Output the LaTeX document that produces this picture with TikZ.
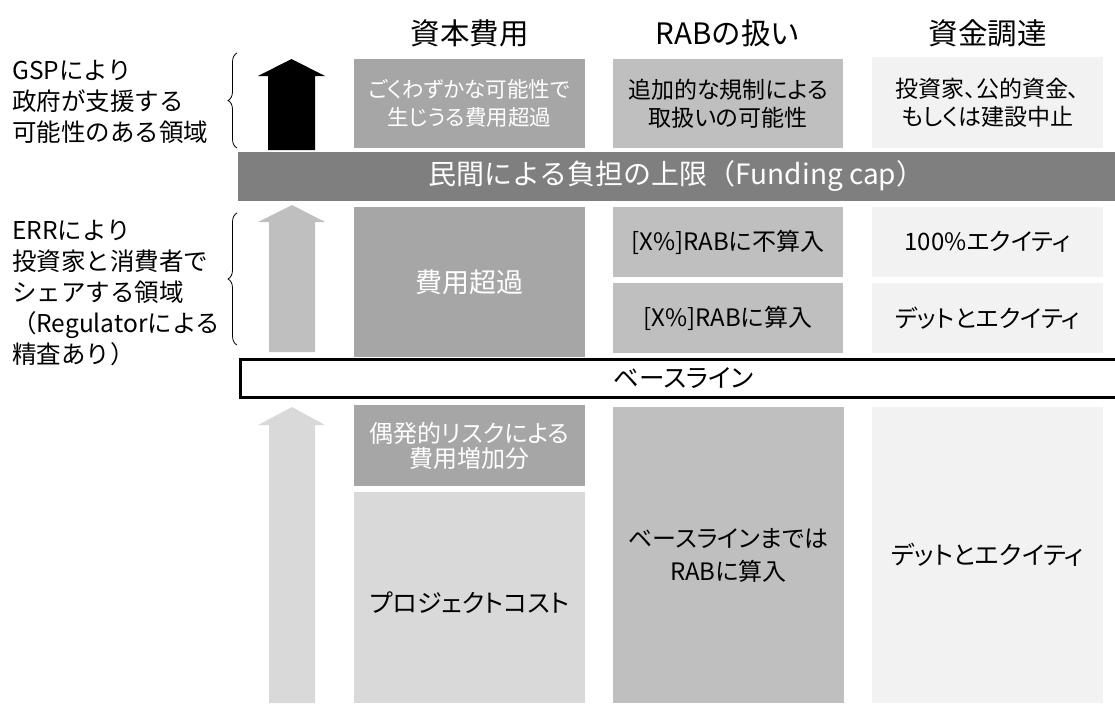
\documentclass[tikz,border=0pt]{standalone}
\usepackage{fontspec}
\setmainfont{Noto Sans CJK JP}
\newfontfamily\jpp[RawFeature=+palt]{Noto Sans CJK JP}
\usetikzlibrary{decorations.pathreplacing}
\definecolor{gDark}{HTML}{7F7F7F}
\definecolor{gMid}{HTML}{A6A6A6}
\definecolor{gLight}{HTML}{BFBFBF}
\definecolor{gPale}{HTML}{D9D9D9}
\definecolor{gFaint}{HTML}{F2F2F2}
\tikzset{
  cell/.style={inner sep=0pt, align=center, minimum width=231pt, text width=226pt},
  hdr/.style={inner sep=0pt, font=\fontsize{29.5}{34}\selectfont},
  side/.style={inner sep=0pt, align=left, anchor=west, font=\fontsize{24.5}{31}\selectfont},
  brc/.style={decorate, decoration={brace, amplitude=9pt}, line width=0.8pt},
  ftop/.style={font=\jpp\fontsize{23}{27.5}\selectfont},
  fmid/.style={font=\jpp\fontsize{24}{28}\selectfont},
}
\begin{document}
\begin{tikzpicture}[x=1pt,y=-1pt]
\useasboundingbox (0,0) rectangle (1115,704);
% headers
\node[hdr] (h1) at (469.5,33) {資本費用};
\node[hdr] (h2) at (728,33) {RABの扱い};
\node[hdr] (h3) at (987.5,33) {資金調達};
% left texts
\node[side] (gsp) at (12,102) {GSPにより\\政府が支援する\\可能性のある領域};
\node[side] (err) at (12,293) {ERRにより\\投資家と消費者で\\シェアする領域\\（Regulatorによる\\精査あり）};
\draw[brc] (237,148) -- (237,53);
\draw[brc] (237,345) -- (237,213);
% arrows
\fill[black] (268,150) -- (268,76) -- (258,76) -- (291.5,59) -- (325,76) -- (315,76) -- (315,150) -- cycle;
\fill[gLight] (269,352) -- (269,222) -- (258,222) -- (292,205) -- (325,222) -- (315,222) -- (315,352) -- cycle;
\fill[gPale] (269,703) -- (269,425) -- (258,425) -- (292,407) -- (325,425) -- (315,425) -- (315,703) -- cycle;
% top row
\node[cell, fill=gMid, text=white, minimum height=89pt, font=\jpp\fontsize{21.5}{27.5}\selectfont] (t1) at (469.5,103.5) {ごくわずかな可能性で\\生じうる費用超過};
\node[cell, ftop, fill=gLight, minimum height=89pt, minimum width=230pt] (t2) at (728,103.5) {追加的な規制による\\取扱いの可能性};
\node[cell, ftop, fill=gFaint, minimum height=91pt] (t3) at (987.5,102.5) {投資家、公的資金、\\もしくは建設中止};
% funding cap
\node[inner sep=0pt, fill=gDark, text=white, minimum width=877pt, minimum height=49pt, font=\fontsize{28}{32}\selectfont] (cap) at (676.5,176.5) {民間による負担の上限（Funding cap）};
% middle row
\node[cell, fill=gMid, text=white, minimum height=150pt, font=\fontsize{27}{30}\selectfont] (m1) at (469.5,282) {費用超過};
\node[cell, fill=gLight, minimum height=70pt, minimum width=230pt, font=\fontsize{24}{28}\selectfont] (m2) at (728,242) {[X\%]RABに不算入};
\node[cell, fill=gLight, minimum height=70pt, minimum width=230pt, font=\fontsize{24}{28}\selectfont] (m3) at (728,318) {[X\%]RABに算入};
\node[cell, fmid, fill=gFaint, minimum height=70pt] (m4) at (987.5,242) {100\%エクイティ};
\node[cell, fmid, fill=gFaint, minimum height=70pt] (m5) at (987.5,318) {デットとエクイティ};
% baseline
\node[draw=black, line width=3pt, fill=white, inner sep=0pt, anchor=west, minimum width=886pt, minimum height=38pt, font=\jpp\fontsize{25.5}{28}\selectfont] (base) at (239,378.5) {ベースライン};
% bottom row
\node[cell, fill=gMid, text=white, minimum height=81pt, font=\jpp\fontsize{24}{25}\selectfont] (b1) at (469.5,445.5) {偶発的リスクによる\\費用増加分};
\node[cell, fill=gPale, minimum height=211pt] (b2) at (469.5,597.5) {};
\node[font=\jpp\fontsize{25}{30}\selectfont] (b2t) at (469.5,603) {プロジェクトコスト};
\node[cell, fill=gLight, minimum height=296pt, font=\jpp\fontsize{24}{33}\selectfont] (b3) at (728.5,555) {ベースラインまでは\\RABに算入};
\node[cell, fill=gFaint, minimum height=296pt, font=\jpp\fontsize{25}{30}\selectfont] (b4) at (987.5,555) {デットとエクイティ};
\end{tikzpicture}
\end{document}
